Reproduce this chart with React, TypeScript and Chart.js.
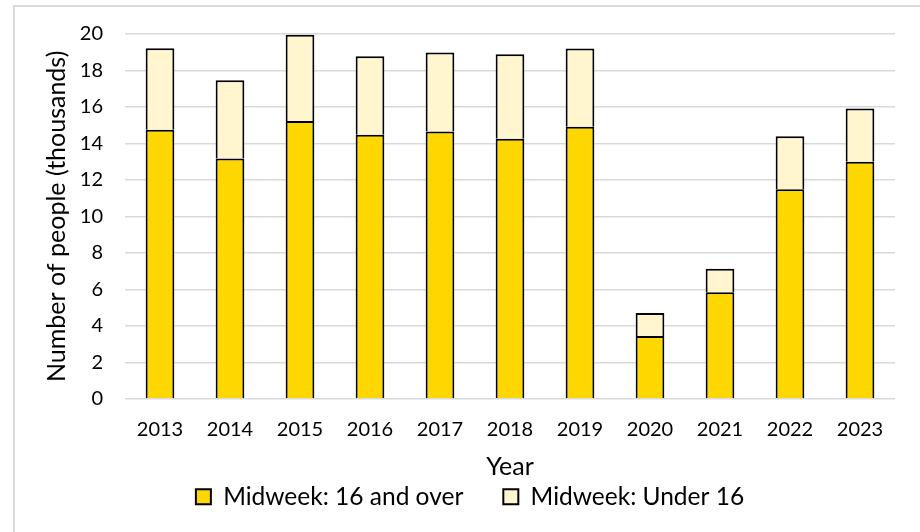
import React, { useEffect, useRef } from "react";
import { Chart, registerables } from "chart.js";

Chart.register(...registerables);

const years = ["2013", "2014", "2015", "2016", "2017", "2018", "2019", "2020", "2021", "2022", "2023"];
const over16 = [14.75, 13.17, 15.23, 14.47, 14.66, 14.26, 14.91, 3.44, 5.84, 11.49, 12.99];
const under16 = [4.47, 4.29, 4.73, 4.31, 4.32, 4.63, 4.29, 1.26, 1.29, 2.9, 2.93];
const seriesNames = ["Midweek: 16 and over", "Midweek: Under 16"];
const yTitle = "Number of people (thousands)";
const xTitle = "Year";

const FONT = "Lato, 'Open Sans', sans-serif";

export default function App() {
  const ref = useRef<HTMLCanvasElement | null>(null);

  useEffect(() => {
    if (!ref.current) return;
    const chart = new Chart(ref.current, {
      type: "bar",
      data: {
        labels: years,
        datasets: [
          {
            label: seriesNames[0],
            data: over16,
            backgroundColor: "#FFD700",
            borderColor: "#000000",
            borderWidth: 2,
            barPercentage: 0.41,
            categoryPercentage: 1,
          },
          {
            label: seriesNames[1],
            data: under16,
            backgroundColor: "#FFF6CF",
            borderColor: "#000000",
            borderWidth: 2,
            barPercentage: 0.41,
            categoryPercentage: 1,
          },
        ],
      },
      options: {
        responsive: false,
        animation: false,
        layout: { padding: { left: 45, top: 31, right: 25, bottom: 13 } },
        plugins: {
          tooltip: { enabled: false },
          legend: {
            position: "bottom",
            labels: {
              boxWidth: 15,
              boxHeight: 15,
              padding: 40,
              color: "#000",
              font: { family: FONT, size: 24.5 },
            },
          },
        },
        scales: {
          x: {
            stacked: true,
            grid: { display: false, drawTicks: false },
            border: { display: false },
            ticks: { color: "#000", padding: 19, font: { family: FONT, size: 20 } },
            title: {
              display: true,
              text: xTitle,
              color: "#000",
              font: { family: FONT, size: 25 },
              padding: { top: 0, bottom: -37 },
            },
            afterFit: (s: any) => {
              s.height = 45.7;
            },
          },
          y: {
            stacked: true,
            min: 0,
            max: 20,
            ticks: { stepSize: 2, color: "#000", padding: 22, font: { family: FONT, size: 20 } },
            grid: { color: "#d9d9d9", lineWidth: 1.5, drawTicks: false },
            border: { display: false },
            title: {
              display: true,
              text: yTitle,
              color: "#000",
              font: { family: FONT, size: 25 },
              padding: { top: -3, bottom: 0 },
            },
            afterFit: (s: any) => {
              s.width = 80;
            },
          },
        },
      },
    });
    return () => chart.destroy();
  }, []);

  return (
    <div style={{ position: "fixed", left: 0, top: 0, width: 920, height: 532, background: "#fff", overflow: "hidden" }}>
      <div
        style={{
          position: "absolute",
          left: 13,
          top: 5,
          right: -10,
          bottom: -10,
          borderLeft: "2px solid #d9d9d9",
          borderTop: "2px solid #d9d9d9",
        }}
      />
      <canvas ref={ref} width={920} height={532} style={{ position: "absolute", left: 0, top: 0 }} />
    </div>
  );
}
